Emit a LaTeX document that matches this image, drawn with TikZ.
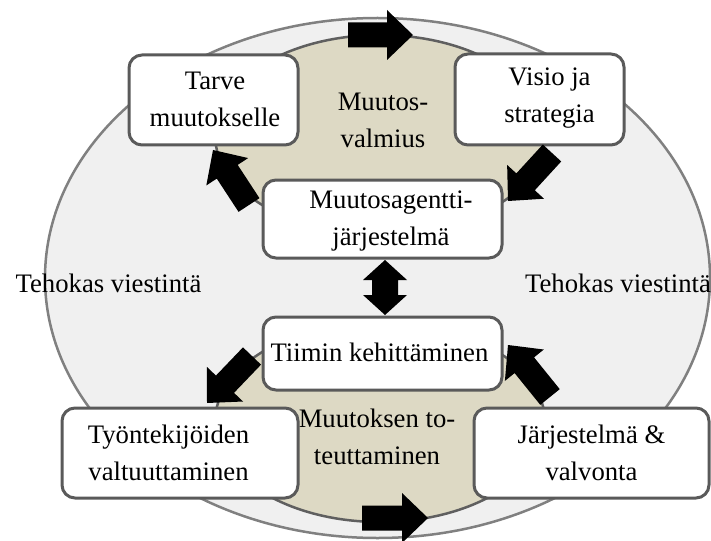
\documentclass[tikz,border=0pt]{standalone}
\usepackage{fontspec}
\setmainfont{Liberation Serif}
\usetikzlibrary{calc}

\definecolor{outerfill}{HTML}{F0F0F0}
\definecolor{outerline}{HTML}{808080}
\definecolor{tanfill}{HTML}{DDD9C4}
\definecolor{tanline}{HTML}{5F5F5F}
\definecolor{boxline}{HTML}{5A5A5A}

% block arrow from tail #2 to tip #3; #1 names its head base
\newcommand{\blockarrow}[3]{%
  \coordinate (#1h) at ($(#3)!26pt!(#2)$);
  \fill[arrowfill]
    ($(#2)!12.5pt!90:(#3)$) -- ($(#1h)!12.5pt!90:(#3)$) --
    ($(#1h)!25pt!90:(#3)$) -- (#3) --
    ($(#1h)!25pt!-90:(#3)$) -- ($(#1h)!12.5pt!-90:(#3)$) --
    ($(#2)!12.5pt!-90:(#3)$) -- cycle;
}

\begin{document}
\begin{tikzpicture}[x=1pt,y=-1pt,
  txt/.style={font=\fontsize{26.7}{37}\selectfont, align=center, inner sep=0pt},
  stagebox/.style={draw=boxline, line width=3pt, fill=white,
                   rounded corners=13pt, inner sep=0pt},
  arrowfill/.style={fill=black},
  outerring/.style={draw=outerline, line width=2.5pt, fill=outerfill},
  tanring/.style={draw=tanline, line width=2.5pt, fill=tanfill}]

\useasboundingbox (0,0) rectangle (711,540);

% outer ring: effective communication
\path[outerring] (377.5,278) ellipse [x radius=332.5pt, y radius=260pt];

% two inner phases
\path[tanring] (380,135) ellipse [x radius=165pt, y radius=100pt];
\path[tanring] (380,422) ellipse [x radius=165pt, y radius=100pt];

\node[txt] (viestL) at (108.5,283) {Tehokas viestintä};
\node[txt] (viestR) at (618,283) {Tehokas viestintä};

\node[txt] (valmius) at (383,120) {Muutos-\\valmius};
\node[txt] (toteutus) at (377,437) {Muutoksen to-\\teuttaminen};

% stage boxes
\node[stagebox, minimum width=169pt, minimum height=90pt,
      label={[txt, xshift=1.5pt, yshift=1pt]center:{Tarve\\muutokselle}}]
      (tarve) at (213.5,100) {};
\node[stagebox, minimum width=169pt, minimum height=91pt,
      label={[txt, xshift=10pt, yshift=1pt]center:{Visio ja\\strategia}}]
      (visio) at (539.5,99.5) {};
\node[stagebox, minimum width=239pt, minimum height=78pt,
      label={[txt, xshift=8.5pt, yshift=-2pt]center:{Muutosagentti-\\järjestelmä}}]
      (agentti) at (382.5,219) {};
\node[stagebox, minimum width=239pt, minimum height=73pt,
      label={[txt, xshift=-3pt, yshift=1pt]center:{Tiimin kehittäminen}}]
      (tiimi) at (382.5,353.5) {};
\node[stagebox, minimum width=236pt, minimum height=90pt,
      label={[txt, xshift=-11.5pt]center:{Työntekijöiden\\valtuuttaminen}}]
      (valtuutus) at (180,453) {};
\node[stagebox, minimum width=235pt, minimum height=90pt,
      label={[txt]center:{Järjestelmä \&\\valvonta}}]
      (valvonta) at (591.5,453) {};

% cycle arrows
\coordinate (a1t) at (348,35);  \coordinate (a1p) at (413,35);
\coordinate (a2t) at (552,153); \coordinate (a2p) at (508,201);
\coordinate (a3t) at (249,205); \coordinate (a3p) at (213,150);
\coordinate (a5t) at (252,356); \coordinate (a5p) at (207,403);
\coordinate (a6t) at (550,397); \coordinate (a6p) at (508,345);
\coordinate (a7t) at (362,518); \coordinate (a7p) at (428,518);
\blockarrow{a1}{a1t}{a1p}
\blockarrow{a2}{a2t}{a2p}
\blockarrow{a3}{a3t}{a3p}
\blockarrow{a5}{a5t}{a5p}
\blockarrow{a6}{a6t}{a6p}
\blockarrow{a7}{a7t}{a7p}

% two-way link between the phases
\coordinate (dtop) at (385,260);
\coordinate (dbot) at (385,315);
\fill[arrowfill] (dtop) -- ($(dtop)+(22,20)$) -- ($(dtop)+(13,20)$) --
  ($(dbot)+(13,-20)$) -- ($(dbot)+(22,-20)$) -- (dbot) --
  ($(dbot)+(-22,-20)$) -- ($(dbot)+(-13,-20)$) --
  ($(dtop)+(-13,20)$) -- ($(dtop)+(-22,20)$) -- cycle;

\end{tikzpicture}
\end{document}
